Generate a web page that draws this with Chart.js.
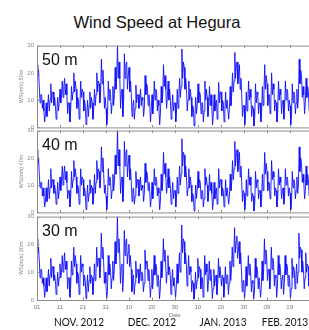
<!DOCTYPE html>
<html>
<head>
<meta charset="utf-8">
<script src="https://cdn.jsdelivr.net/npm/chart.js@4"></script>
<style>
  html, body { margin:0; padding:0; background:#fff; overflow:hidden; }
  #wrap { position:relative; width:309px; height:330px; overflow:hidden; font-family:"Liberation Sans", Arial, sans-serif; }
  canvas { position:absolute; left:0; }
  .txt { position:absolute; white-space:nowrap; line-height:1; color:#111; }
  .month { font-family:Lato, "Liberation Sans", sans-serif; font-size:12px; transform:translateX(-50%) scaleX(0.84); }
</style>
</head>
<body>
<div id="wrap">
  <canvas id="p1" width="320" height="95" style="top:39px"></canvas>
  <canvas id="p2" width="320" height="95" style="top:124px"></canvas>
  <canvas id="p3" width="320" height="112" style="top:210px"></canvas>
  <div class="txt" id="title" style="left:157px; top:14px; font-size:16.5px; transform:translateX(-50%);"></div>
  <div id="labels"></div>
</div>
<script>
// text
const chartTitle = 'Wind Speed at Hegura';
const heights = ['50 m', '40 m', '30 m'];
const yTitles = ['WS(m/s) 50m', 'WS(m/s) 40m', 'WS(m/s) 30m'];
const xTickLabels = ['01','11','21','31','10','20','30','10','20','30','09','19','29'];
const months = ['NOV. 2012', 'DEC. 2012', 'JAN. 2013', 'FEB. 2013'];
const monthCenters = [78.5, 152, 223, 285];
const stepDays = 1 / 3; // three readings per day

// wind speed, m/s (every 8 h from 01 Nov)
const ws50 = [
  23,19,21, 15,9,12, 12,7,10, 6,2,5, 9,4,8, 12,6,10, 16,9,13, 13,8,11, 8,3,6, 11,6,9,
  14,9,12, 17,11,15, 18,12,16, 12,5,9, 9,2,7, 15,10,13, 20,13,17, 14,7,11, 10,3,8, 17,11,14,
  13,6,10, 8,1,5, 10,4,8, 13,7,11, 9,3,7, 14,8,12, 20,13,17, 16,9,13, 25,16,21, 15,7,11,
  7,1,4, 17,10,14, 12,5,9, 15,8,12, 22,14,19, 30,18,24, 18,7,13, 14,4,10, 27,18,23, 24,14,19,
  22,13,17, 12,4,8, 10,3,7, 15.5,9,12, 12,7,10, 14,8,11, 10,4,7, 19,12,16, 15,8,12, 9,2,6,
  12,5,9, 17,10,14, 13,6,10, 8,1,5, 15,9,12, 23,15,19, 14,7,11, 17,10,14, 10,3,7, 12,6,9,
  9,2,6, 14,7,11, 18,11,15, 28.7,18,24, 22,14,18, 14,6,10, 17,10,14, 11,4,8, 7,0.5,4, 11,5,8,
  16,9,13, 12,5,9, 9,2,6, 17,10,14, 11,4,8, 15,8,12, 8,1,5, 12,6,9, 10,3,7, 16.5,9,13,
  13,6,10, 9,2,6, 13,7,10, 10,3,7, 15,8,12, 20,13,17, 27.5,18,23, 24,16,20, 23,14,18, 12,4,8,
  8,1,5, 13,6,10, 17,10,14, 11,4,8, 7,0.5,4, 16,9,13, 12,5,9, 9,2,6, 15,8,12, 23,14,19,
  16,8,12, 12,5,9, 20,12,16, 14,6,10, 9,2,6, 17,10,14, 12,5,9, 10,3,7, 17,10,14, 13,6,10,
  8,1,5, 16,9,13, 12,5,9, 14,7,11, 25,16,21, 19,11,15, 12,5,9, 18,11,15, 13,6,10, 9,2,6,
  11
];
const ws40 = [
  23,18,20, 14,9,11, 11,6,9, 6,2,4, 9,4,7, 12,5,9, 16,9,12, 12,7,10, 8,3,6, 11,5,8,
  13,8,11, 17,10,14, 17,12,15, 11,5,8, 8,2,6, 15,9,12, 19,13,16, 13,7,10, 9,3,7, 16,10,13,
  12,6,9, 7,1,5, 10,4,7, 12,7,10, 9,3,6, 14,7,11, 19,12,16, 15,9,12, 24,15,20, 14,7,10,
  6,1,4, 16,10,13, 11,5,8, 14,8,11, 21,14,18, 30,17,23, 17,7,12, 13,4,9, 26,17,22, 23,13,18,
  21,12,16, 11,4,8, 9,3,6, 15,9,12, 12,6,9, 13,8,10, 9,4,7, 18,11,15, 14,8,11, 8,2,5,
  11,5,8, 16,10,13, 12,6,9, 7,1,4, 14,8,11, 22,14,18, 13,7,10, 16,9,13, 9,3,6, 11,5,8,
  8,2,5, 13,7,10, 17,10,14, 27,17,22, 21,13,17, 13,6,9, 16,9,13, 10,4,7, 6,0.5,3, 10,5,8,
  15,9,12, 11,5,8, 8,2,5, 16,10,13, 10,4,7, 14,8,11, 7,1,4, 11,5,8, 9,3,6, 16,9,12,
  12,6,9, 8,2,5, 12,6,9, 9,3,6, 14,8,11, 19,12,16, 26,17,22, 23,15,19, 22,13,17, 11,4,8,
  7,1,4, 12,6,9, 16,10,13, 10,4,7, 6,0.5,3, 15,9,12, 11,5,8, 8,2,5, 14,8,11, 22,14,18,
  15,8,11, 11,5,8, 19,12,15, 13,6,9, 8,2,5, 16,10,13, 11,5,8, 9,3,6, 16,10,13, 12,6,9,
  7,1,4, 15,9,12, 11,5,8, 13,7,10, 24,15,20, 18,11,14, 11,5,8, 17,10,14, 12,6,9, 8,2,5,
  10
];
const ws30 = [
  22,17,19, 14,8,11, 11,6,8, 5,1,4, 8,3,6, 11,5,9, 15,8,12, 12,7,9, 7,2,5, 10,5,8,
  13,8,10, 16,10,13, 17,11,14, 11,4,8, 8,1,5, 14,9,12, 19,12,16, 13,6,10, 9,2,6, 16,10,13,
  12,5,9, 7,0.5,4, 9,3,7, 12,6,9, 8,2,6, 13,7,10, 19,12,15, 15,8,12, 24,15,19, 14,6,10,
  6,0.5,3, 16,9,13, 11,4,8, 14,7,11, 21,13,17, 30,17,22, 17,6,12, 13,3,9, 25,16,21, 22,13,17,
  20,12,16, 11,3,7, 9,2,6, 14,8,11, 11,6,9, 13,7,10, 9,3,6, 18,11,14, 14,7,11, 8,1,5,
  11,4,8, 16,9,13, 12,5,9, 7,0.5,4, 14,8,11, 22,14,18, 13,6,10, 16,9,12, 9,2,6, 11,5,8,
  8,1,5, 13,6,10, 17,10,13, 27,17,22, 21,13,17, 13,5,9, 16,9,12, 10,3,7, 6,0.3,3, 10,4,7,
  15,8,12, 11,4,8, 8,1,5, 16,9,13, 10,3,7, 14,7,11, 7,0.5,4, 11,5,8, 9,2,6, 15,8,12,
  12,5,9, 8,1,5, 12,6,9, 9,2,6, 14,7,11, 19,12,15, 26,17,21, 23,15,18, 21,13,17, 11,3,7,
  7,0.5,4, 12,5,9, 16,9,13, 10,3,7, 6,0.3,3, 15,8,12, 11,4,8, 8,1,5, 14,7,11, 22,13,18,
  15,7,11, 11,4,8, 19,11,15, 13,5,9, 8,1,5, 16,9,13, 11,4,8, 9,2,6, 16,9,13, 12,5,9,
  7,0.5,4, 15,8,12, 11,4,8, 13,6,10, 24,15,19, 18,10,14, 11,4,8, 17,10,13, 12,5,9, 8,1,5,
  10
];

const axisGray = '#8c8c8c';

// box round the plot with small inward ticks, like the original
const boxPlugin = {
  id: 'box',
  afterDraw(chart) {
    const { ctx, chartArea: a, scales: { x, y } } = chart;
    ctx.save();
    ctx.strokeStyle = axisGray;
    ctx.lineWidth = 1;
    ctx.strokeRect(a.left + 0.5, a.top + 0.5, a.right - a.left - 1, a.bottom - a.top);
    ctx.beginPath();
    x.ticks.forEach(t => {
      const px = Math.round(x.getPixelForValue(t.value)) + 0.5;
      ctx.moveTo(px, a.top); ctx.lineTo(px, a.top + 2.5);
      ctx.moveTo(px, a.bottom); ctx.lineTo(px, a.bottom - 2.5);
    });
    y.ticks.forEach(t => {
      const py = Math.round(y.getPixelForValue(t.value)) + 0.5;
      ctx.moveTo(a.left, py); ctx.lineTo(a.left + 2.5, py);
    });
    ctx.stroke();
    ctx.restore();
  }
};

function makePanel(id, series, yTitle, showX) {
  const pts = series.map((v, i) => ({ x: i * stepDays, y: v }));
  return new Chart(document.getElementById(id), {
    type: 'line',
    data: { datasets: [{ data: pts, borderColor: 'rgba(15,15,250,0.9)', borderWidth: 1, pointRadius: 0, tension: 0 }] },
    options: {
      responsive: false, animation: false, devicePixelRatio: 1,
      layout: { padding: { top: 5, bottom: showX ? 0 : 5, left: 0, right: 7 } },
      plugins: { legend: { display: false }, tooltip: { enabled: false } },
      scales: {
        x: {
          type: 'linear', min: 0, max: 120,
          afterBuildTicks: s => { s.ticks = xTickLabels.map((_, i) => ({ value: i * 10 })); },
          afterFit: s => { s.height = showX ? 22 : 0; },
          grid: { display: false, drawTicks: false }, border: { display: false },
          ticks: { display: showX, autoSkip: false, maxRotation: 0, padding: 4, color: '#777', font: { size: 6 },
                   callback: (v, i) => xTickLabels[i] },
          title: { display: showX, text: 'Date', color: '#777', font: { size: 5.5 }, padding: { top: 0, bottom: 3 } }
        },
        y: {
          min: 0, max: 30,
          afterBuildTicks: s => { s.ticks = [0, 10, 20, 30].map(v => ({ value: v })); },
          afterFit: s => { s.width = 37; },
          grid: { display: false, drawTicks: false }, border: { display: false },
          ticks: { padding: 3, color: '#888', font: { size: 6 } },
          title: { display: true, text: yTitle, color: '#888', font: { size: 5.5 }, padding: { top: 18, bottom: 0 } }
        }
      }
    },
    plugins: [boxPlugin]
  });
}

makePanel('p1', ws50, yTitles[0], false);
makePanel('p2', ws40, yTitles[1], false);
makePanel('p3', ws30, yTitles[2], true);

// text overlays
document.getElementById('title').textContent = chartTitle;
const lab = document.getElementById('labels');
const panelTops = [44, 129, 215];
heights.forEach((h, i) => {
  const d = document.createElement('div');
  d.className = 'txt';
  d.style.cssText = `left:42px; top:${panelTops[i] + 7.5}px; font-size:16px;`;
  d.textContent = h;
  lab.appendChild(d);
});
months.forEach((m, i) => {
  const d = document.createElement('div');
  d.className = 'txt month';
  d.style.left = monthCenters[i] + 'px';
  d.style.top = '316px';
  d.textContent = m;
  lab.appendChild(d);
});
</script>
</body>
</html>
